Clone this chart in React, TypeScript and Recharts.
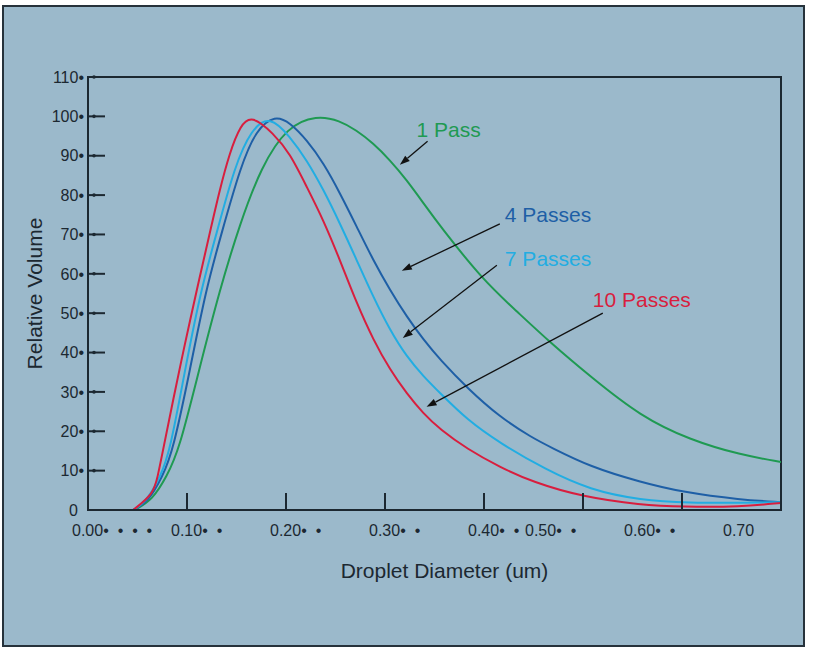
import React from 'react'
import { LineChart, Line, XAxis, YAxis, ReferenceArea, ReferenceLine } from 'recharts'

// droplet size distributions, [diameter um, relative volume]
const pass1 = [[0.047,0],[0.065,2.5],[0.0795,8.5],[0.092,15.2],[0.112,35.4],[0.133,55.9],[0.1535,72.8],[0.175,87.2],[0.201,97.4],[0.231,100.3],[0.2545,98.9],[0.271,96.5],[0.288,93.2],[0.305,88.9],[0.322,83.8],[0.339,77.9],[0.356,72],[0.399,58.4],[0.433,50.5],[0.467,42.5],[0.507,34],[0.558,23.8],[0.608,17.8],[0.659,14],[0.7,12.2]]
const pass4 = [[0.0455,0],[0.06,1.8],[0.0754,8.5],[0.086,15.2],[0.103,35.6],[0.119,55.9],[0.135,70.4],[0.154,87.2],[0.17,96.7],[0.189,100.3],[0.204,98.4],[0.221,94],[0.238,88.1],[0.2545,80.5],[0.2714,72],[0.288,63.5],[0.305,55.9],[0.322,49.1],[0.339,43.2],[0.356,38.1],[0.383,31],[0.416,23.6],[0.449,18.3],[0.467,16],[0.507,11],[0.558,7.1],[0.601,4.5],[0.659,2.6],[0.7,2]]
const pass7 = [[0.0455,0],[0.058,1.8],[0.0734,8.5],[0.083,15.2],[0.098,35.6],[0.114,55.9],[0.13,70.4],[0.148,87.2],[0.165,96.8],[0.184,100.2],[0.204,94.8],[0.221,88.9],[0.238,81.3],[0.2545,72.8],[0.2714,63.5],[0.288,54.2],[0.305,45.7],[0.322,38.9],[0.339,33.9],[0.356,29.6],[0.383,22.9],[0.416,17],[0.462,10.3],[0.507,5.1],[0.558,2.5],[0.608,1.8],[0.659,1.8],[0.7,2]]
const pass10 = [[0.0455,0],[0.066,4],[0.0704,8.5],[0.0758,15.2],[0.086,28],[0.098,42.4],[0.11,56],[0.123,70.4],[0.133,81.3],[0.143,90.7],[0.154,97.8],[0.1654,100.3],[0.1872,95.7],[0.204,90.6],[0.2209,82.1],[0.2377,73.7],[0.2545,63.5],[0.2714,52.5],[0.2882,43.2],[0.3051,35.6],[0.3219,29.6],[0.3387,24.5],[0.3556,20.5],[0.383,15.5],[0.416,10.9],[0.449,7.1],[0.5,3.3],[0.558,1.3],[0.601,0.8],[0.659,0.8],[0.7,1.8]]

const xTicks = [0, 0.1, 0.2, 0.3, 0.4, 0.5, 0.6, 0.7]
const xLabels = ['0.00•\u00a0\u00a0•\u00a0\u00a0•\u00a0\u00a0•', '0.10•\u00a0\u00a0•', '0.20•\u00a0\u00a0•', '0.30•\u00a0\u00a0•', '0.40•\u00a0\u00a0•', '0.50•\u00a0\u00a0•', '0.60•\u00a0\u00a0•', '0.70']
const yTicks = [0, 10, 20, 30, 40, 50, 60, 70, 80, 90, 100, 110]
const yLabels = ['0', '10•', '20•', '30•', '40•', '50•', '60•', '70•', '80•', '90•', '100•', '110•']

const GREEN = '#1f9a52'
const DBLUE = '#1e5fa6'
const LBLUE = '#22ade2'
const RED = '#d81e3e'
const BG = '#9bb9cb'
const INK = '#1c2831'
const FONT = '"Liberation Sans", Arial, Helvetica, sans-serif'

// callouts: label, colour, arrow tail -> head (data units), text offset from tail (px)
const notes = [
  { text: '1 Pass', color: GREEN, from: [0.343, 93.7], to: [0.315, 87.7], dx: -11, dy: -4 },
  { text: '4 Passes', color: DBLUE, from: [0.416, 72.7], to: [0.317, 60.8], dx: 5, dy: -2 },
  { text: '7 Passes', color: LBLUE, from: [0.413, 62.2], to: [0.318, 43.7], dx: 8, dy: 1 },
  { text: '10 Passes', color: RED, from: [0.52, 50], to: [0.342, 26.2], dx: -10, dy: -6 },
]

const toPts = (arr: number[][]) => arr.map(([x, y]) => ({ x, y }))

function XTick(p: any) {
  const { x, y, payload, index } = p
  const v = payload.value
  const shift = v >= 0.45 ? 58 : 16
  return (
    <g>
      {v > 0 && <line x1={x} x2={x} y1={y} y2={y - 17} stroke={INK} strokeWidth={2} />}
      <text x={x - shift} y={y + 26} fontSize={16} fill={INK} fontFamily={FONT}>{xLabels[index]}</text>
    </g>
  )
}

function YTick(p: any) {
  const { x, y, payload, index } = p
  const v = payload.value
  const lab = yLabels[index]
  return (
    <g>
      {v > 0 && <line x1={x} x2={x + 17} y1={y} y2={y} stroke={INK} strokeWidth={2} />}
      {v > 0 && <circle cx={x + 6} cy={y} r={1.8} fill={INK} />}
      <text x={x - (lab.endsWith('•') ? 4 : 10)} y={y} dy="0.36em" textAnchor="end" fontSize={16} fill={INK} fontFamily={FONT}>{lab}</text>
    </g>
  )
}

function Arrow(p: any) {
  const { x1, y1, x2, y2, note } = p
  const a = Math.atan2(y2 - y1, x2 - x1)
  const L = 10, w = 3.5
  const bx = x2 - L * Math.cos(a), by = y2 - L * Math.sin(a)
  const nx = -Math.sin(a), ny = Math.cos(a)
  return (
    <g>
      <line x1={x1} y1={y1} x2={bx} y2={by} stroke="#111" strokeWidth={1.3} />
      <polygon points={`${x2},${y2} ${bx + nx * w},${by + ny * w} ${bx - nx * w},${by - ny * w}`} fill="#111" />
      <text x={x1 + note.dx} y={y1 + note.dy} fontSize={21} fill={note.color} fontFamily={FONT}>{note.text}</text>
    </g>
  )
}

export default function App() {
  const W = 799, H = 638
  return (
    <div style={{ position: 'absolute', left: 4, top: 7, width: W, height: H, background: BG, outline: '2px solid #26323b', fontFamily: FONT }}>
      <LineChart width={W} height={H} margin={{ top: 70, right: 22, bottom: 0, left: 0 }}>
        <XAxis type="number" dataKey="x" domain={[0, 0.7]} ticks={xTicks} allowDataOverflow height={135}
          tickSize={0} tickMargin={0} tick={(p: any) => <XTick {...p} />} stroke={INK} strokeWidth={2}
          label={{ value: 'Droplet Diameter (um)', position: 'insideTop', offset: 53, dx: 10, style: { fontSize: 21, fill: INK, fontFamily: FONT } }} />
        <YAxis type="number" domain={[0, 110]} ticks={yTicks} allowDataOverflow width={84}
          tickSize={0} tickMargin={0} tick={(p: any) => <YTick {...p} />} stroke={INK} strokeWidth={2}
          label={{ value: 'Relative Volume', angle: -90, position: 'insideLeft', offset: 31, style: { fontSize: 21, fill: INK, fontFamily: FONT, textAnchor: 'middle' } }} />
        <ReferenceArea x1={0} x2={0.7} y1={0} y2={110} fill="none" stroke={INK} strokeWidth={2} fillOpacity={0} />
        <Line data={toPts(pass1)} dataKey="y" type="basis" stroke={GREEN} strokeWidth={2} dot={false} isAnimationActive={false} />
        <Line data={toPts(pass4)} dataKey="y" type="basis" stroke={DBLUE} strokeWidth={2} dot={false} isAnimationActive={false} />
        <Line data={toPts(pass7)} dataKey="y" type="basis" stroke={LBLUE} strokeWidth={2} dot={false} isAnimationActive={false} />
        <Line data={toPts(pass10)} dataKey="y" type="basis" stroke={RED} strokeWidth={2} dot={false} isAnimationActive={false} />
        {notes.map(n => (
          <ReferenceLine key={n.text} segment={[{ x: n.from[0], y: n.from[1] }, { x: n.to[0], y: n.to[1] }]}
            shape={(p: any) => <Arrow {...p} note={n} />} />
        ))}
      </LineChart>
    </div>
  )
}
